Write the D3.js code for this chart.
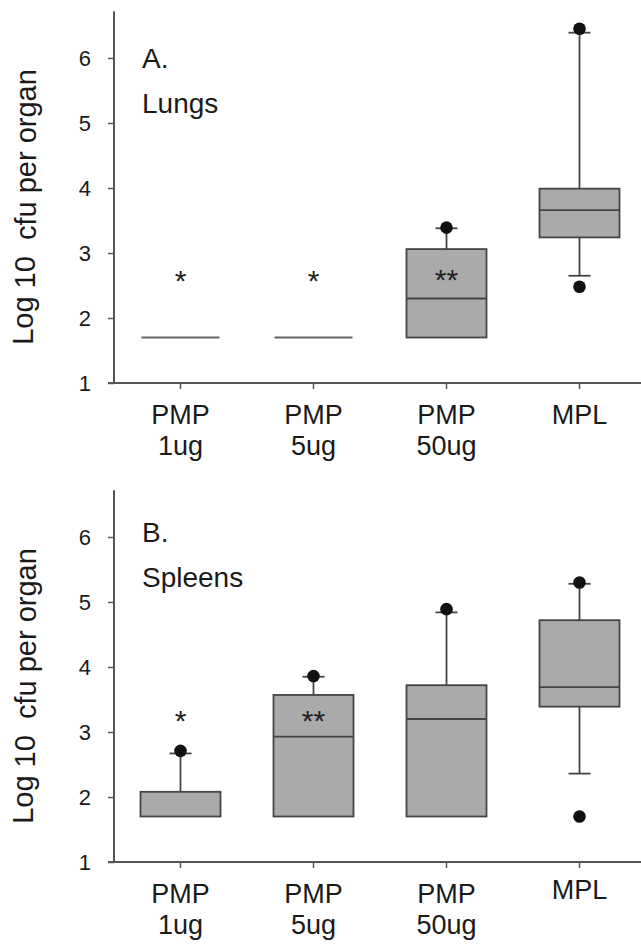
<!DOCTYPE html>
<html><head><meta charset="utf-8">
<script src="https://cdn.jsdelivr.net/npm/d3@7"></script>
<style>
html,body{margin:0;padding:0;background:#fff;}
svg{display:block;font-family:"Liberation Sans",Arial,Helvetica,sans-serif;}
</style></head>
<body>
<svg id="chart" width="641" height="945"></svg>
<script>
// ---- data ----
const categories = ["PMP|1ug", "PMP|5ug", "PMP|50ug", "MPL"];
const yTicks = [1, 2, 3, 4, 5, 6];

const lungsQ1 = [1.70, 1.70, 1.70, 3.24];
const lungsMedian = [1.70, 1.70, 2.30, 3.66];
const lungsQ3 = [1.70, 1.70, 3.06, 3.99];
const lungsWhiskerLow = [1.70, 1.70, 1.70, 2.65];
const lungsWhiskerHigh = [1.70, 1.70, 3.38, 6.39];
const lungsOutliers = [[], [], [3.39], [6.45, 2.48]];
const lungsStars = ["*", "*", "**", ""];
const lungsStarY = [2.66, 2.66, 2.68, 0];

const spleensQ1 = [1.70, 1.70, 1.70, 3.39];
const spleensMedian = [1.70, 2.93, 3.20, 3.69];
const spleensQ3 = [2.08, 3.57, 3.72, 4.72];
const spleensWhiskerLow = [1.70, 1.70, 1.70, 2.36];
const spleensWhiskerHigh = [2.67, 3.85, 4.84, 5.28];
const spleensOutliers = [[2.71], [3.86], [4.89], [5.30, 1.70]];
const spleensStars = ["*", "**", "", ""];
const spleensStarY = [3.26, 3.26, 0, 0];

const panels = [
  {letter: "A.", organ: "Lungs", top: 383, q1: lungsQ1, med: lungsMedian, q3: lungsQ3,
   wl: lungsWhiskerLow, wh: lungsWhiskerHigh, out: lungsOutliers, stars: lungsStars, starY: lungsStarY,
   letterDy: 10, mplDy: 0},
  {letter: "B.", organ: "Spleens", top: 862, q1: spleensQ1, med: spleensMedian, q3: spleensQ3,
   wl: spleensWhiskerLow, wh: spleensWhiskerHigh, out: spleensOutliers, stars: spleensStars, starY: spleensStarY,
   letterDy: 5, mplDy: -4}
];

// ---- drawing ----
const svg = d3.select("#chart");
const axisColor = "#555";
const boxFill = "#aaaaaa";
const boxStroke = "#444";
const textColor = "#1a1a1a";
const left = 114;

const x = d3.scaleBand().domain(categories).range([left, left + 4 * 133]).paddingInner(0).paddingOuter(0);
const boxW = 80, capW = 22;

panels.forEach(p => {
  const y = d3.scaleLinear().domain([1, 6]).range([p.top, p.top - 325]);
  const g = svg.append("g");
  const cx = c => x(c) + x.bandwidth() / 2;

  // y axis
  const yAxis = d3.axisLeft(y).tickValues(yTicks).tickSize(6).tickPadding(17).tickFormat(d3.format("d"));
  const ya = g.append("g").attr("transform", `translate(${left},0)`).call(yAxis);
  ya.select(".domain").remove();
  ya.selectAll(".tick line").attr("stroke", axisColor).attr("stroke-width", 1.5);
  ya.selectAll(".tick text").attr("font-size", 22).attr("fill", textColor).attr("font-family", "Liberation Sans, Arial, sans-serif");
  g.append("line").attr("x1", left).attr("x2", left).attr("y1", y(6.72)).attr("y2", y(1))
    .attr("stroke", axisColor).attr("stroke-width", 2);

  // x axis
  const xAxis = d3.axisBottom(x).tickSize(6).tickFormat("");
  const xa = g.append("g").attr("transform", `translate(0,${y(1)})`).call(xAxis);
  xa.select(".domain").remove();
  xa.selectAll(".tick line").attr("stroke", axisColor).attr("stroke-width", 1.5);
  g.append("line").attr("x1", left - 6).attr("x2", 641).attr("y1", y(1)).attr("y2", y(1))
    .attr("stroke", axisColor).attr("stroke-width", 2);

  // x labels
  categories.forEach(c => {
    const parts = c.split("|");
    const t = g.append("text").attr("text-anchor", "middle").attr("font-size", 27).attr("fill", textColor)
      .attr("x", cx(c)).attr("y", y(1) + 41 + (parts.length === 1 ? p.mplDy : 0));
    parts.forEach((s, i) => t.append("tspan").attr("x", cx(c)).attr("dy", i === 0 ? 0 : 31).text(s));
  });

  // y axis title
  const title = g.append("text").attr("transform", `translate(33,${y(1) - 176}) rotate(-90)`)
    .attr("text-anchor", "middle").attr("font-size", 29).attr("fill", textColor);
  title.append("tspan").text("Log ");
  title.append("tspan").attr("dy", 2).text("10");
  title.append("tspan").attr("dy", 1).text("\u00a0 cfu per organ");

  // panel labels
  g.append("text").attr("x", 142).attr("y", y(6) + p.letterDy).attr("font-size", 28).attr("fill", textColor).text(p.letter);
  g.append("text").attr("x", 142).attr("y", y(6) + p.letterDy + 45).attr("font-size", 28).attr("fill", textColor).text(p.organ);

  // boxes
  categories.forEach((c, i) => {
    const xc = cx(c);
    if (p.wh[i] > p.q3[i]) {
      g.append("line").attr("x1", xc).attr("x2", xc).attr("y1", y(p.q3[i])).attr("y2", y(p.wh[i]))
        .attr("stroke", boxStroke).attr("stroke-width", 1.8);
      g.append("line").attr("x1", xc - capW / 2).attr("x2", xc + capW / 2).attr("y1", y(p.wh[i])).attr("y2", y(p.wh[i]))
        .attr("stroke", boxStroke).attr("stroke-width", 1.8);
    }
    if (p.wl[i] < p.q1[i]) {
      g.append("line").attr("x1", xc).attr("x2", xc).attr("y1", y(p.q1[i])).attr("y2", y(p.wl[i]))
        .attr("stroke", boxStroke).attr("stroke-width", 1.8);
      g.append("line").attr("x1", xc - capW / 2).attr("x2", xc + capW / 2).attr("y1", y(p.wl[i])).attr("y2", y(p.wl[i]))
        .attr("stroke", boxStroke).attr("stroke-width", 1.8);
    }
    if (p.q3[i] > p.q1[i]) {
      g.append("rect").attr("x", xc - boxW / 2).attr("width", boxW)
        .attr("y", y(p.q3[i])).attr("height", y(p.q1[i]) - y(p.q3[i]))
        .attr("fill", boxFill).attr("stroke", boxStroke).attr("stroke-width", 1.8);
      if (p.med[i] > p.q1[i]) {
        g.append("line").attr("x1", xc - boxW / 2).attr("x2", xc + boxW / 2)
          .attr("y1", y(p.med[i])).attr("y2", y(p.med[i])).attr("stroke", boxStroke).attr("stroke-width", 1.8);
      }
    } else {
      g.append("line").attr("x1", xc - boxW / 2 + 1).attr("x2", xc + boxW / 2 - 1)
        .attr("y1", y(p.med[i])).attr("y2", y(p.med[i])).attr("stroke", "#666").attr("stroke-width", 1.8);
    }
    p.out[i].forEach(v => {
      g.append("circle").attr("cx", xc).attr("cy", y(v)).attr("r", 6.3).attr("fill", "#111");
    });
    if (p.stars[i]) {
      g.append("text").attr("x", xc).attr("y", y(p.starY[i]) + 16).attr("text-anchor", "middle")
        .attr("font-size", 30).attr("fill", "#222").text(p.stars[i]);
    }
  });
});
</script>
</body></html>
